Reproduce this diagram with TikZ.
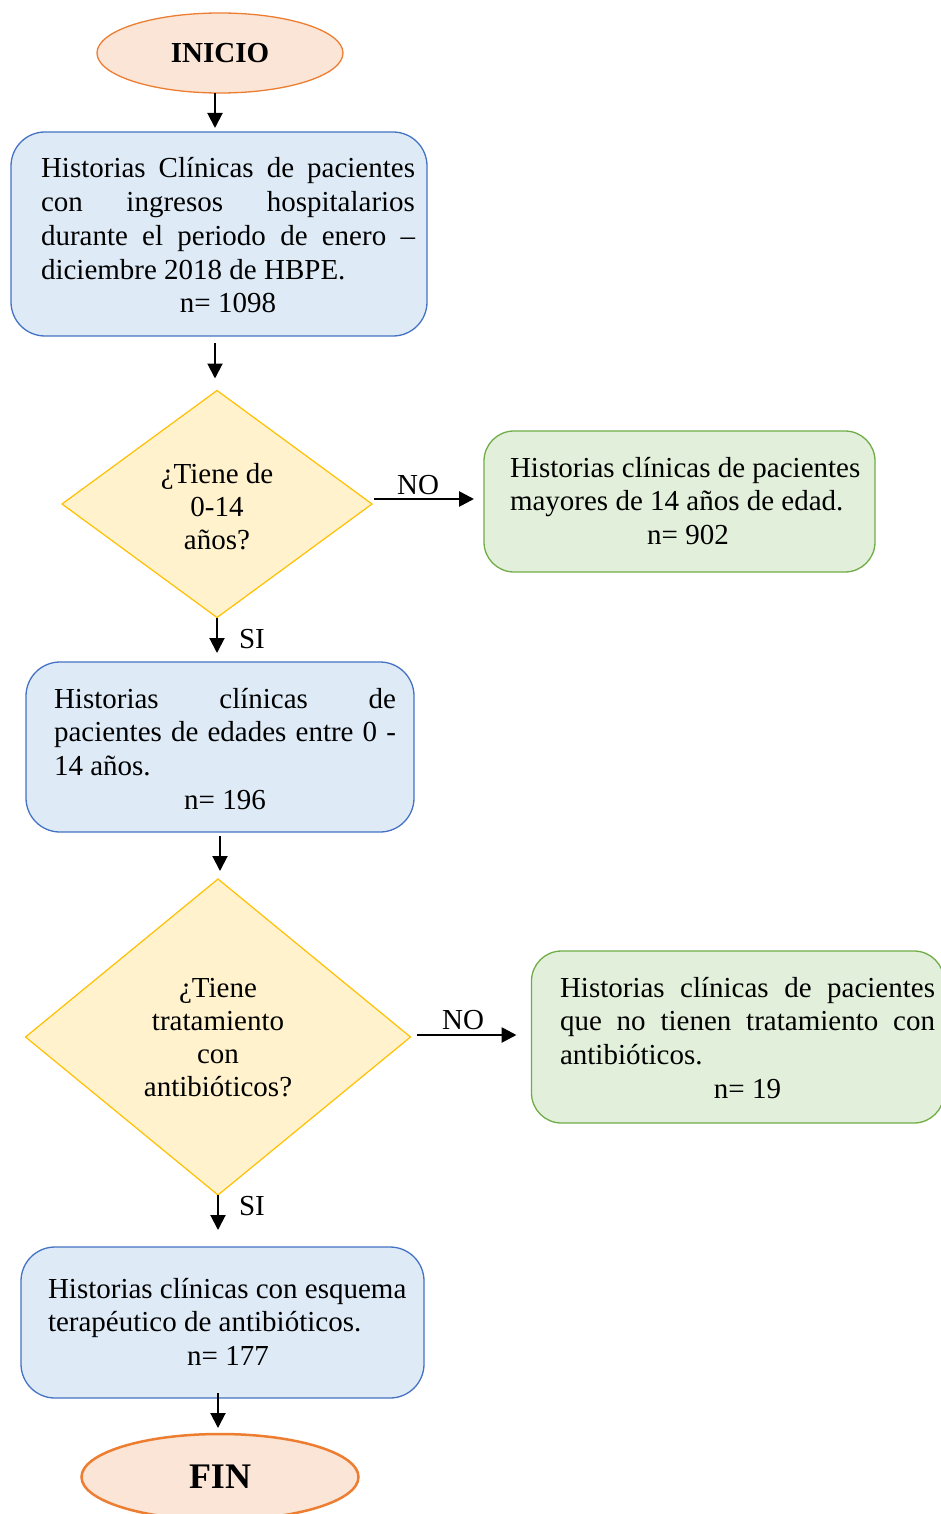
\documentclass[tikz,border=0pt]{standalone}
\usepackage{fontspec}
\setmainfont{Liberation Serif}
\usetikzlibrary{shapes.geometric,arrows.meta}
\definecolor{bfill}{HTML}{DEEBF7}
\definecolor{bline}{HTML}{4472C4}
\definecolor{gfill}{HTML}{E2EFDA}
\definecolor{gline}{HTML}{70AD47}
\definecolor{yfill}{HTML}{FFF2CC}
\definecolor{yline}{HTML}{FFC000}
\definecolor{ofill}{HTML}{FBE5D6}
\definecolor{oline}{HTML}{ED7D31}
\newcommand\jline[1]{\makebox[\linewidth][s]{\spaceskip=0.25em plus 1fil\relax #1}}
\newcommand\ctline[1]{\makebox[\linewidth][c]{#1}}
\newcommand\natsp{\spaceskip=0.25em\xspaceskip=0.25em\hyphenpenalty=10000\relax}
\begin{document}
\begin{tikzpicture}[x=1pt,y=-1pt,
  every node/.style={inner sep=0pt, outer sep=0pt},
  txt/.style={font=\fontsize{29}{33.75}\selectfont, align=left, anchor=base west},
  ctxt/.style={font=\fontsize{29}{33.3}\selectfont, align=center, anchor=base, text width=320},
  lbl/.style={font=\fontsize{29}{33}\selectfont},
  bluebox/.style={rectangle, draw=bline, fill=bfill, line width=1.3pt, rounded corners=34pt},
  greenbox/.style={rectangle, draw=gline, fill=gfill, line width=1.3pt, rounded corners=30pt},
  decision/.style={diamond, draw=yline, fill=yfill, line width=1.2pt},
  terminal/.style={ellipse, draw=oline, fill=ofill, line width=1.3pt},
  arr/.style={line width=2pt, -{Triangle[length=15pt,width=15pt]}},
  arrthick/.style={line width=2.7pt, -{Triangle[length=15pt,width=15pt]}},
]
\useasboundingbox (0,0) rectangle (941,1514);

% start
\node[terminal, minimum width=246, minimum height=80,
      font=\bfseries\fontsize{29}{33}\selectfont] (ini) at (220,53) {INICIO};

% box 1
\node[bluebox, minimum width=416, minimum height=204] (b1) at (219,234) {};
\node[txt, text width=374] (t1) at (41,178)
 {\natsp\jline{Historias Clínicas de pacientes}\\
  \jline{con ingresos hospitalarios}\\
  \jline{durante el periodo de enero –}\\
  diciembre 2018 de HBPE.\\
  \ctline{n= 1098}};

% decision 1
\node[decision, minimum width=310, minimum height=227] (d1) at (217,504) {};
\node[ctxt] (t2) at (217,483) {\natsp ¿Tiene de\\0-14\\años?};

% green 1
\node[greenbox, minimum width=391, minimum height=141] (g1) at (679.5,501.5) {};
\node[txt, text width=356] (t3) at (510,477)
 {\natsp Historias clínicas de pacientes\\
  mayores de 14 años de edad.\\
  \ctline{n= 902}};

% box 2
\node[bluebox, minimum width=388, minimum height=170] (b2) at (220,747) {};
\node[txt, text width=342] (t4) at (54,708)
 {\natsp\jline{Historias clínicas de}\\
  \jline{pacientes de edades entre 0 -}\\
  14 años.\\
  \ctline{n= 196}};

% decision 2
\node[decision, minimum width=385, minimum height=316] (d2) at (218,1037) {};
\node[ctxt] (t5) at (218,997) {\natsp ¿Tiene\\tratamiento\\con\\antibióticos?};

% green 2
\node[greenbox, minimum width=412.5, minimum height=172] (g2) at (737.75,1037) {};
\node[txt, text width=375] (t6) at (560,997)
 {\natsp\jline{Historias clínicas de pacientes}\\
  \jline{que no tienen tratamiento con}\\
  antibióticos.\\
  \ctline{n= 19}};

% box 3
\node[bluebox, minimum width=403, minimum height=151] (b3) at (222.5,1322.5) {};
\node[txt, text width=360] (t7) at (48,1298)
 {\natsp Historias clínicas con esquema\\
  terapéutico de antibióticos.\\
  \ctline{n= 177}};

% end
\node[terminal, line width=2.5pt, minimum width=277, minimum height=86,
      font=\bfseries\fontsize{36}{40}\selectfont] (fin) at (220,1477) {FIN};

% connectors
\draw[arr] ([xshift=-5pt]ini.south) -- ([xshift=-4pt,yshift=4pt]b1.north);
\draw[arr] ([xshift=-4pt,yshift=-7pt]b1.south) -- ([xshift=-2pt,yshift=12pt]d1.north);

\coordinate (n1s) at ([xshift=2pt,yshift=5pt]d1.east);
\draw[arrthick, shorten >=10pt] (n1s) -- (n1s -| g1.west);
\node[lbl, anchor=base] (no1) at (418,494) {NO};

\draw[arr, shorten >=9pt] (d1.south) -- (d1.south |- b2.north);
\node[lbl, anchor=base west] (si1) at (239,648) {SI};

\draw[arr, shorten <=4pt, shorten >=8pt] (b2.south) -- (b2.south |- d2.north);

\coordinate (n2s) at ([xshift=6pt,yshift=2pt]d2.east);
\draw[arrthick, shorten >=15pt] (n2s) -- (n2s -| g2.west);
\node[lbl, anchor=base] (no2) at (463,1029) {NO};

\draw[arr, shorten >=17pt] (d2.south) -- (d2.south |- b3.north);
\node[lbl, anchor=base west] (si2) at (239,1215) {SI};

\draw[arr] ([xshift=-4.5pt,yshift=5pt]b3.south) -- ([xshift=-2pt,yshift=6pt]fin.north);
\end{tikzpicture}
\end{document}
